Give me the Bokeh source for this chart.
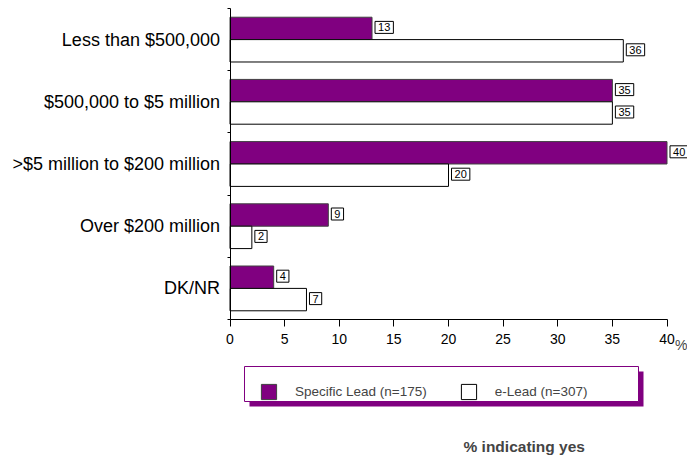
from bokeh.plotting import figure
from bokeh.models import (ColumnDataSource, Range1d, FixedTicker, LabelSet,
                          Label, Legend, LegendItem, BoxAnnotation)
from bokeh.core.properties import value
from bokeh.embed import file_html
from bokeh.resources import INLINE

categories = ["Less than $500,000", "$500,000 to $5 million", ">$5 million to $200 million",
              "Over $200 million", "DK/NR"]
specific_lead = [13, 35, 40, 9, 4]
e_lead = [36, 35, 20, 2, 7]
x_ticks = [0, 5, 10, 15, 20, 25, 30, 35, 40]
series_names = ["Specific Lead (n=175)", "e-Lead (n=307)"]

FONT = "Liberation Sans"
PURPLE = "#800080"
BAR_H = 0.36
OFF = 0.18
NB = "\u00a0"

n = len(categories)
ypos = [n - 1 - i for i in range(n)]          # top category first

src = ColumnDataSource(dict(
    cat=categories,
    y_spec=[y + OFF for y in ypos],
    y_elead=[y - OFF for y in ypos],
    spec=specific_lead,
    elead=e_lead,
    spec_txt=[NB + str(v) + NB for v in specific_lead],
    elead_txt=[NB + str(v) + NB for v in e_lead],
))

# the frame covers the whole canvas; both axes sit at fixed data locations
p = figure(width=687, height=456, output_backend="svg", toolbar_location=None,
           x_range=Range1d(-21.007, 41.876), y_range=Range1d(-2.7026, 4.6286),
           min_border_left=0, min_border_right=0, min_border_top=0, min_border_bottom=0)

r1 = p.hbar(y="y_spec", right="spec", left=0, height=BAR_H, source=src,
            fill_color=PURPLE, line_color="#404040", line_width=1)
r2 = p.hbar(y="y_elead", right="elead", left=0, height=BAR_H, source=src,
            fill_color="white", line_color="black", line_width=1)

common = dict(x_offset=3, y_offset=1, text_align="left", text_baseline="middle",
              text_font_size="11px", text_font=value(FONT), text_color="black",
              border_line_color="black", border_line_width=1, background_fill_color="white")
p.add_layout(LabelSet(x="spec", y="y_spec", text="spec_txt", source=src, **common))
p.add_layout(LabelSet(x="elead", y="y_elead", text="elead_txt", source=src, **common))

p.xgrid.visible = False
p.ygrid.visible = False
p.outline_line_color = None
p.background_fill_color = "white"
p.border_fill_color = "white"

xa = p.xaxis[0]
xa.fixed_location = -0.5
xa.bounds = (0, 40)
xa.ticker = FixedTicker(ticks=x_ticks)
xa.axis_line_color = "black"
xa.major_tick_line_color = "black"
xa.major_tick_out = 7
xa.major_tick_in = 0
xa.minor_tick_line_color = None
xa.major_label_text_font = FONT
xa.major_label_text_font_size = "14px"
xa.major_label_text_color = "black"
xa.major_label_standoff = 8

ya = p.yaxis[0]
ya.fixed_location = 0
ya.bounds = (-0.5, n - 0.5)
ya.ticker = FixedTicker(ticks=ypos, minor_ticks=[y - 0.5 for y in range(n + 1)])
ya.major_label_overrides = {y: c for y, c in zip(ypos, categories)}
ya.axis_line_color = "black"
ya.major_tick_line_color = None
ya.minor_tick_line_color = "black"
ya.minor_tick_out = 3
ya.minor_tick_in = 0
ya.major_tick_out = 0
ya.major_label_text_font = FONT
ya.major_label_text_font_size = "18px"
ya.major_label_text_color = "black"
ya.major_label_standoff = 7

p.add_layout(Label(x=40, y=112, y_units="screen", x_offset=8, text="%", text_font=FONT,
                   text_font_size="14px", text_align="left", text_baseline="alphabetic"))

# legend frame with purple shadow
p.add_layout(BoxAnnotation(left=249, right=643, top=85, bottom=50,
                           left_units="screen", right_units="screen",
                           top_units="screen", bottom_units="screen",
                           fill_color=PURPLE, fill_alpha=1, line_color=None))
p.add_layout(BoxAnnotation(left=244, right=638, top=90, bottom=55,
                           left_units="screen", right_units="screen",
                           top_units="screen", bottom_units="screen",
                           fill_color="white", fill_alpha=1, line_color=PURPLE,
                           line_width=1, line_alpha=1))

legend = Legend(items=[LegendItem(label=series_names[0], renderers=[r1]),
                       LegendItem(label=series_names[1], renderers=[r2])],
                orientation="horizontal", location=(259, 55),
                glyph_width=19, glyph_height=19, label_standoff=17, spacing=32,
                padding=8, margin=0, border_line_color=None, background_fill_alpha=0,
                label_text_font=FONT, label_text_font_size="13.5px")
p.add_layout(legend, "center")

p.add_layout(Label(x=463, y=10, x_units="screen", y_units="screen", text="% indicating yes",
                   text_font=FONT, text_font_size="15.5px", text_font_style="bold",
                   text_align="left", text_baseline="alphabetic"))

open("out.html", "w").write(file_html(p, INLINE))
